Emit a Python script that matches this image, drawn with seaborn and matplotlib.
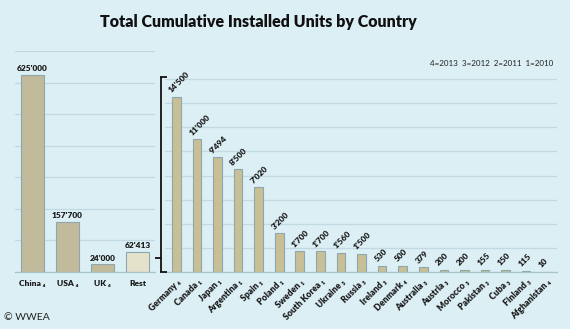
import matplotlib
matplotlib.use("Agg")
import matplotlib.pyplot as plt
from matplotlib.lines import Line2D
import seaborn as sns
import pandas as pd

# ---- data ----
left_countries = ["China", "USA", "UK", "Rest"]
left_years = ["4", "4", "4", ""]
left_values = [625000, 157700, 24000, 62413]

right_countries = ["Germany", "Canada", "Japan", "Argentina", "Spain", "Poland",
                   "Sweden", "South Korea", "Ukraine", "Russia", "Ireland",
                   "Denmark", "Australia", "Austria", "Morocco", "Pakistan",
                   "Cuba", "Finland", "Afghanistan"]
right_years = ["4", "1", "1", "1", "1", "1", "1", "1", "3", "3", "3",
               "4", "3", "3", "3", "3", "3", "3", "4"]
right_values = [14500, 11000, 9494, 8500, 7020, 3200, 1700, 1700, 1560, 1500,
                530, 500, 379, 200, 200, 155, 150, 115, 10]

title = "Total Cumulative Installed Units by Country"
year_key = "4=2013  3=2012  2=2011  1=2010"
credit = "© WWEA"

SUB = str.maketrans("0123456789", "₀₁₂₃₄₅₆₇₈₉")

def fmt(v):
    return f"{v:,}".replace(",", "'")

def lab(c, y):
    return c + (" " + y.translate(SUB) if y else "")

BG = "#dbeff5"
BAR = "#c8bf95"
REST = "#e9e5c8"
EDGE = "#8ea7ae"
GRID = "#c2d9e1"
TXT = "#1a1a1a"
FONT = ["Lato", "DejaVu Sans"]

sns.set_theme(style="white")
plt.rcParams["font.family"] = FONT

W, H = 570, 329
fig = plt.figure(figsize=(W / 100, H / 100), dpi=100, facecolor=BG)

def px_axes(x0, y0, x1, y1):
    return fig.add_axes([x0 / W, 1 - y1 / H, (x1 - x0) / W, (y1 - y0) / H])

# ---- left panel ----
axL = px_axes(15, 51, 155, 272)
dfL = pd.DataFrame({"country": [lab(c, y) for c, y in zip(left_countries, left_years)],
                    "value": left_values,
                    "kind": ["main", "main", "main", "rest"]})
sns.barplot(data=dfL, x="country", y="value", hue="kind",
            palette={"main": BAR, "rest": REST}, legend=False,
            width=0.64, edgecolor=EDGE, linewidth=0.8, ax=axL, dodge=False)
axL.set_ylim(0, 700000)
axL.set_xlim(-0.5, 3.5)
axL.set_yticks(range(0, 700001, 100000))
axL.set_yticklabels([])
axL.tick_params(axis="y", length=0)
axL.tick_params(axis="x", length=0, pad=6)
for t in axL.get_xticklabels():
    t.set_fontsize(6)
    t.set_fontweight("heavy")
    t.set_color(TXT)
axL.set_xlabel("")
axL.set_ylabel("")
axL.set_facecolor("none")
axL.grid(axis="y", color=GRID, linewidth=0.9)
axL.set_axisbelow(True)
for s in ["top", "right", "left"]:
    axL.spines[s].set_visible(False)
axL.spines["bottom"].set_color("#a9c3cb")
axL.spines["bottom"].set_linewidth(0.9)
for i, v in enumerate(left_values):
    axL.text(i, v + 9000, fmt(v), ha="center", va="bottom",
             fontsize=6, fontweight="heavy", color=TXT)

# ---- right panel ----
axR = px_axes(165, 79, 557, 272)
dfR = pd.DataFrame({"country": [lab(c, y) for c, y in zip(right_countries, right_years)],
                    "value": right_values})
sns.barplot(data=dfR, x="country", y="value", color=BAR, saturation=1,
            width=0.42, edgecolor=EDGE, linewidth=0.8, ax=axR)
axR.set_ylim(0, 16000)
axR.set_xlim(-0.55, len(right_values) - 0.5)
axR.set_yticks(range(0, 16001, 2000))
axR.set_yticklabels([])
axR.tick_params(axis="y", length=0)
axR.tick_params(axis="x", length=0, pad=4)
axR.set_xticks(range(len(right_values)))
axR.set_xticklabels(dfR["country"], rotation=45, ha="right",
                    rotation_mode="anchor", fontsize=6.2, fontweight="heavy", color=TXT)
axR.set_xlabel("")
axR.set_ylabel("")
axR.set_facecolor("none")
axR.grid(axis="y", color=GRID, linewidth=0.9)
axR.set_axisbelow(True)
for s in ["top", "right", "left"]:
    axR.spines[s].set_visible(False)
axR.spines["bottom"].set_color("#a9c3cb")
axR.spines["bottom"].set_linewidth(0.9)
for i, v in enumerate(right_values):
    axR.text(i - 0.2, v + 250, fmt(v), ha="left", va="bottom", rotation=45,
             rotation_mode="anchor", fontsize=6, fontweight="heavy", color=TXT)

# ---- bracket ----
def fl(x0, y0, x1, y1):
    fig.add_artist(Line2D([x0 / W, x1 / W], [1 - y0 / H, 1 - y1 / H],
                          color="#111111", linewidth=1.3, solid_capstyle="butt"))

fl(161, 77, 161, 272)
fl(160.4, 77, 167, 77)
fl(160.4, 272, 167, 272)
fl(155, 258, 161, 258)

# ---- texts ----
fig.text(258 / W, 1 - 22 / H, title, ha="center", va="center", fontsize=11.5,
         fontweight="heavy", color="#111111")
fig.text(553 / W, 1 - 64 / H, year_key, ha="right", va="center", fontsize=5.8,
         color="#222222")
fig.text(4 / W, 1 - 318 / H, credit, ha="left", va="center", fontsize=7.5,
         color="#222222")

fig.savefig("out.png", dpi=100, facecolor=BG)
